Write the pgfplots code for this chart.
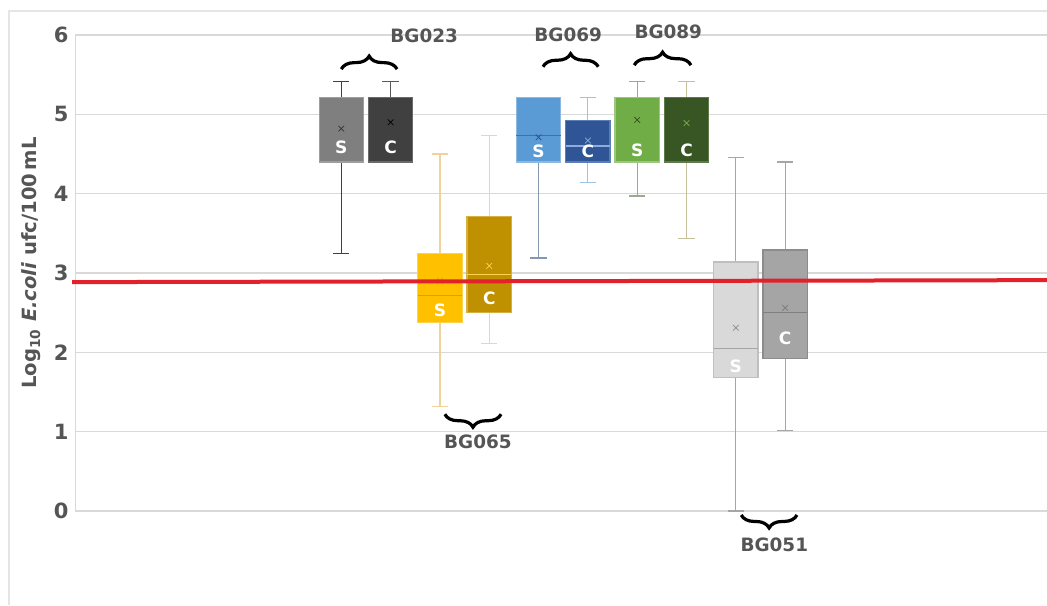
\documentclass[border=0pt]{standalone}
\usepackage{pgfplots}
\pgfplotsset{compat=1.18}
\usepgfplotslibrary{statistics}
\usetikzlibrary{decorations.pathreplacing}
\usepackage{fontspec}
\setmainfont{DejaVu Sans}
\definecolor{txtgray}{HTML}{555555}
\definecolor{redline}{HTML}{E2222A}
% BG023
\definecolor{aSf}{HTML}{7F7F7F}\definecolor{aSb}{HTML}{9E9E9E}\definecolor{aSw}{HTML}{404040}
\definecolor{aCf}{HTML}{404040}\definecolor{aCb}{HTML}{6A6A6A}\definecolor{aCw}{HTML}{595959}
% BG065
\definecolor{bSf}{HTML}{FFC000}\definecolor{bSb}{HTML}{FFD34D}\definecolor{bSw}{HTML}{EED39A}\definecolor{bSm}{HTML}{D9A000}
\definecolor{bCf}{HTML}{BF9000}\definecolor{bCb}{HTML}{D6B040}\definecolor{bCw}{HTML}{F0D890}\definecolor{bCm}{HTML}{FFD24D}
% BG069
\definecolor{cSf}{HTML}{5B9BD5}\definecolor{cSb}{HTML}{8CB8E2}\definecolor{cSw}{HTML}{8497B0}\definecolor{cSm}{HTML}{41719C}
\definecolor{cCf}{HTML}{2F5597}\definecolor{cCb}{HTML}{5B7CB5}\definecolor{cCw}{HTML}{9DC3E6}\definecolor{cCm}{HTML}{8FAADC}
% BG089
\definecolor{dSf}{HTML}{70AD47}\definecolor{dSb}{HTML}{9BC77E}\definecolor{dSw}{HTML}{9CA88F}
\definecolor{dCf}{HTML}{375623}\definecolor{dCb}{HTML}{5E7A4A}\definecolor{dCw}{HTML}{C5C09A}
% BG051
\definecolor{eSf}{HTML}{D9D9D9}\definecolor{eSb}{HTML}{BFBFBF}\definecolor{eSw}{HTML}{A6A6A6}
\definecolor{eCf}{HTML}{A5A5A5}\definecolor{eCb}{HTML}{8C8C8C}\definecolor{eCw}{HTML}{A6A6A6}\definecolor{eCm}{HTML}{7F7F7F}

\pgfplotsset{
  mybox/.style n args={5}{
    color=#5,
    boxplot/draw direction=y,
    boxplot/every box/.style={draw=#2, fill=#1, line width=0.6pt},
    boxplot/every whisker/.style={draw=#3, line width=0.6pt},
    boxplot/every median/.style={draw=#4, line width=0.7pt},
    boxplot/every average/.style={/tikz/mark=x, /tikz/mark size=2pt, /tikz/color=#5},
  },
}
\tikzset{
  scl/.style={text=white, font=\fontsize{8.5}{10}\selectfont\bfseries, inner sep=0pt},
  grp/.style={text=txtgray, font=\fontsize{9.2}{11}\selectfont\bfseries, inner sep=0pt},
  brc/.style={decorate, decoration={brace, amplitude=6.5pt}, line width=1.6pt, black},
}

\begin{document}
\begin{tikzpicture}
\useasboundingbox (-37.5pt,-47pt) rectangle (486pt,255.5pt);
\draw[black!10, line width=1pt] (-33pt,-47pt) -- (-33pt,250pt) -- (486pt,250pt);
\begin{axis}[
  scale only axis, width=486pt, height=238pt,
  xmin=-4.40, xmax=15.31, ymin=0, ymax=6,
  ytick={0,1,2,3,4,5,6},
  axis x line=none, axis y line*=left,
  y axis line style={draw=black!15},
  ymajorgrids, grid style={draw=black!15, line width=0.6pt},
  major tick length=0pt,
  /pgf/number format/assume math mode=true,
  yticklabel style={font=\fontsize{10.5}{12}\selectfont\bfseries, text=txtgray, inner sep=0pt, xshift=-3pt},
  ylabel={Log\textsubscript{10} \textit{E.coli} ufc/100\,mL},
  ylabel style={at={(axis description cs:-0.0448,0.521)}, anchor=center, font=\fontsize{9.8}{11}\selectfont\bfseries, text=txtgray},
  clip=false,
  boxplot/draw direction=y,
  boxplot/box extend=0.9, boxplot/whisker extend=0.33,
]
% BG023
\addplot[mybox={aSf}{aSb}{aSw}{aSb}{black!80}, boxplot prepared={draw position=1, lower whisker=3.25, lower quartile=4.40, median=5.21, upper quartile=5.21, upper whisker=5.41, average=4.82}] coordinates {};
\addplot[mybox={aCf}{aCb}{aCw}{aCb}{black}, boxplot prepared={draw position=2, lower whisker=4.40, lower quartile=4.40, median=5.21, upper quartile=5.21, upper whisker=5.41, average=4.90}] coordinates {};
% BG065
\addplot[mybox={bSf}{bSb}{bSw}{bSm}{bSm}, boxplot prepared={draw position=3, lower whisker=1.32, lower quartile=2.38, median=2.72, upper quartile=3.25, upper whisker=4.50, average=2.90}] coordinates {};
\addplot[mybox={bCf}{bCb}{bCw}{bCm}{bCm}, boxplot prepared={draw position=4, lower whisker=2.11, lower quartile=2.50, median=2.98, upper quartile=3.71, upper whisker=4.73, average=3.09}] coordinates {};
% BG069
\addplot[mybox={cSf}{cSb}{cSw}{cSm}{cCf}, boxplot prepared={draw position=5, lower whisker=3.19, lower quartile=4.40, median=4.73, upper quartile=5.21, upper whisker=5.21, average=4.71}] coordinates {};
\addplot[mybox={cCf}{cCb}{cCw}{cCm}{cCm}, boxplot prepared={draw position=6, lower whisker=4.14, lower quartile=4.40, median=4.60, upper quartile=4.92, upper whisker=5.21, average=4.67}] coordinates {};
% BG089
\addplot[mybox={dSf}{dSb}{dSw}{dSb}{dCf}, boxplot prepared={draw position=7, lower whisker=3.97, lower quartile=4.40, median=5.21, upper quartile=5.21, upper whisker=5.41, average=4.93}] coordinates {};
\addplot[mybox={dCf}{dCb}{dCw}{dCb}{dSf}, boxplot prepared={draw position=8, lower whisker=3.43, lower quartile=4.40, median=5.21, upper quartile=5.21, upper whisker=5.41, average=4.89}] coordinates {};
% BG051
\addplot[mybox={eSf}{eSb}{eSw}{eSw}{black!45}, boxplot prepared={draw position=9, lower whisker=0.00, lower quartile=1.68, median=2.05, upper quartile=3.14, upper whisker=4.46, average=2.31}] coordinates {};
\addplot[mybox={eCf}{eCb}{eCw}{eCm}{eCm}, boxplot prepared={draw position=10, lower whisker=1.01, lower quartile=1.92, median=2.50, upper quartile=3.29, upper whisker=4.40, average=2.56}] coordinates {};
% threshold line
\addplot[redline, line width=2pt] coordinates {(-4.46,2.885) (15.31,2.91)};
% S / C labels
\node[scl] at (axis cs:1,4.59) {S};
\node[scl] at (axis cs:2,4.59) {C};
\node[scl] at (axis cs:3,2.53) {S};
\node[scl] at (axis cs:4,2.68) {C};
\node[scl] at (axis cs:5,4.54) {S};
\node[scl] at (axis cs:6,4.53) {C};
\node[scl] at (axis cs:7,4.55) {S};
\node[scl] at (axis cs:8,4.55) {C};
\node[scl] at (axis cs:9,1.83) {S};
\node[scl] at (axis cs:10,2.18) {C};
% group labels and braces
\node[grp] at (axis cs:2.68,5.99) {BG023};
\node[grp] at (axis cs:5.60,6.00) {BG069};
\node[grp] at (axis cs:7.63,6.04) {BG089};
\node[grp] at (axis cs:3.77,0.87) {BG065};
\node[grp] at (axis cs:9.78,-0.42) {BG051};
\draw[brc] (axis cs:1.00,5.57) -- (axis cs:2.13,5.57);
\draw[brc] (axis cs:5.09,5.60) -- (axis cs:6.21,5.60);
\draw[brc] (axis cs:6.94,5.62) -- (axis cs:8.09,5.62);
\draw[brc] (axis cs:4.24,1.22) -- (axis cs:3.10,1.22);
\draw[brc] (axis cs:10.24,-0.05) -- (axis cs:9.11,-0.05);
\end{axis}
\end{tikzpicture}
\end{document}
